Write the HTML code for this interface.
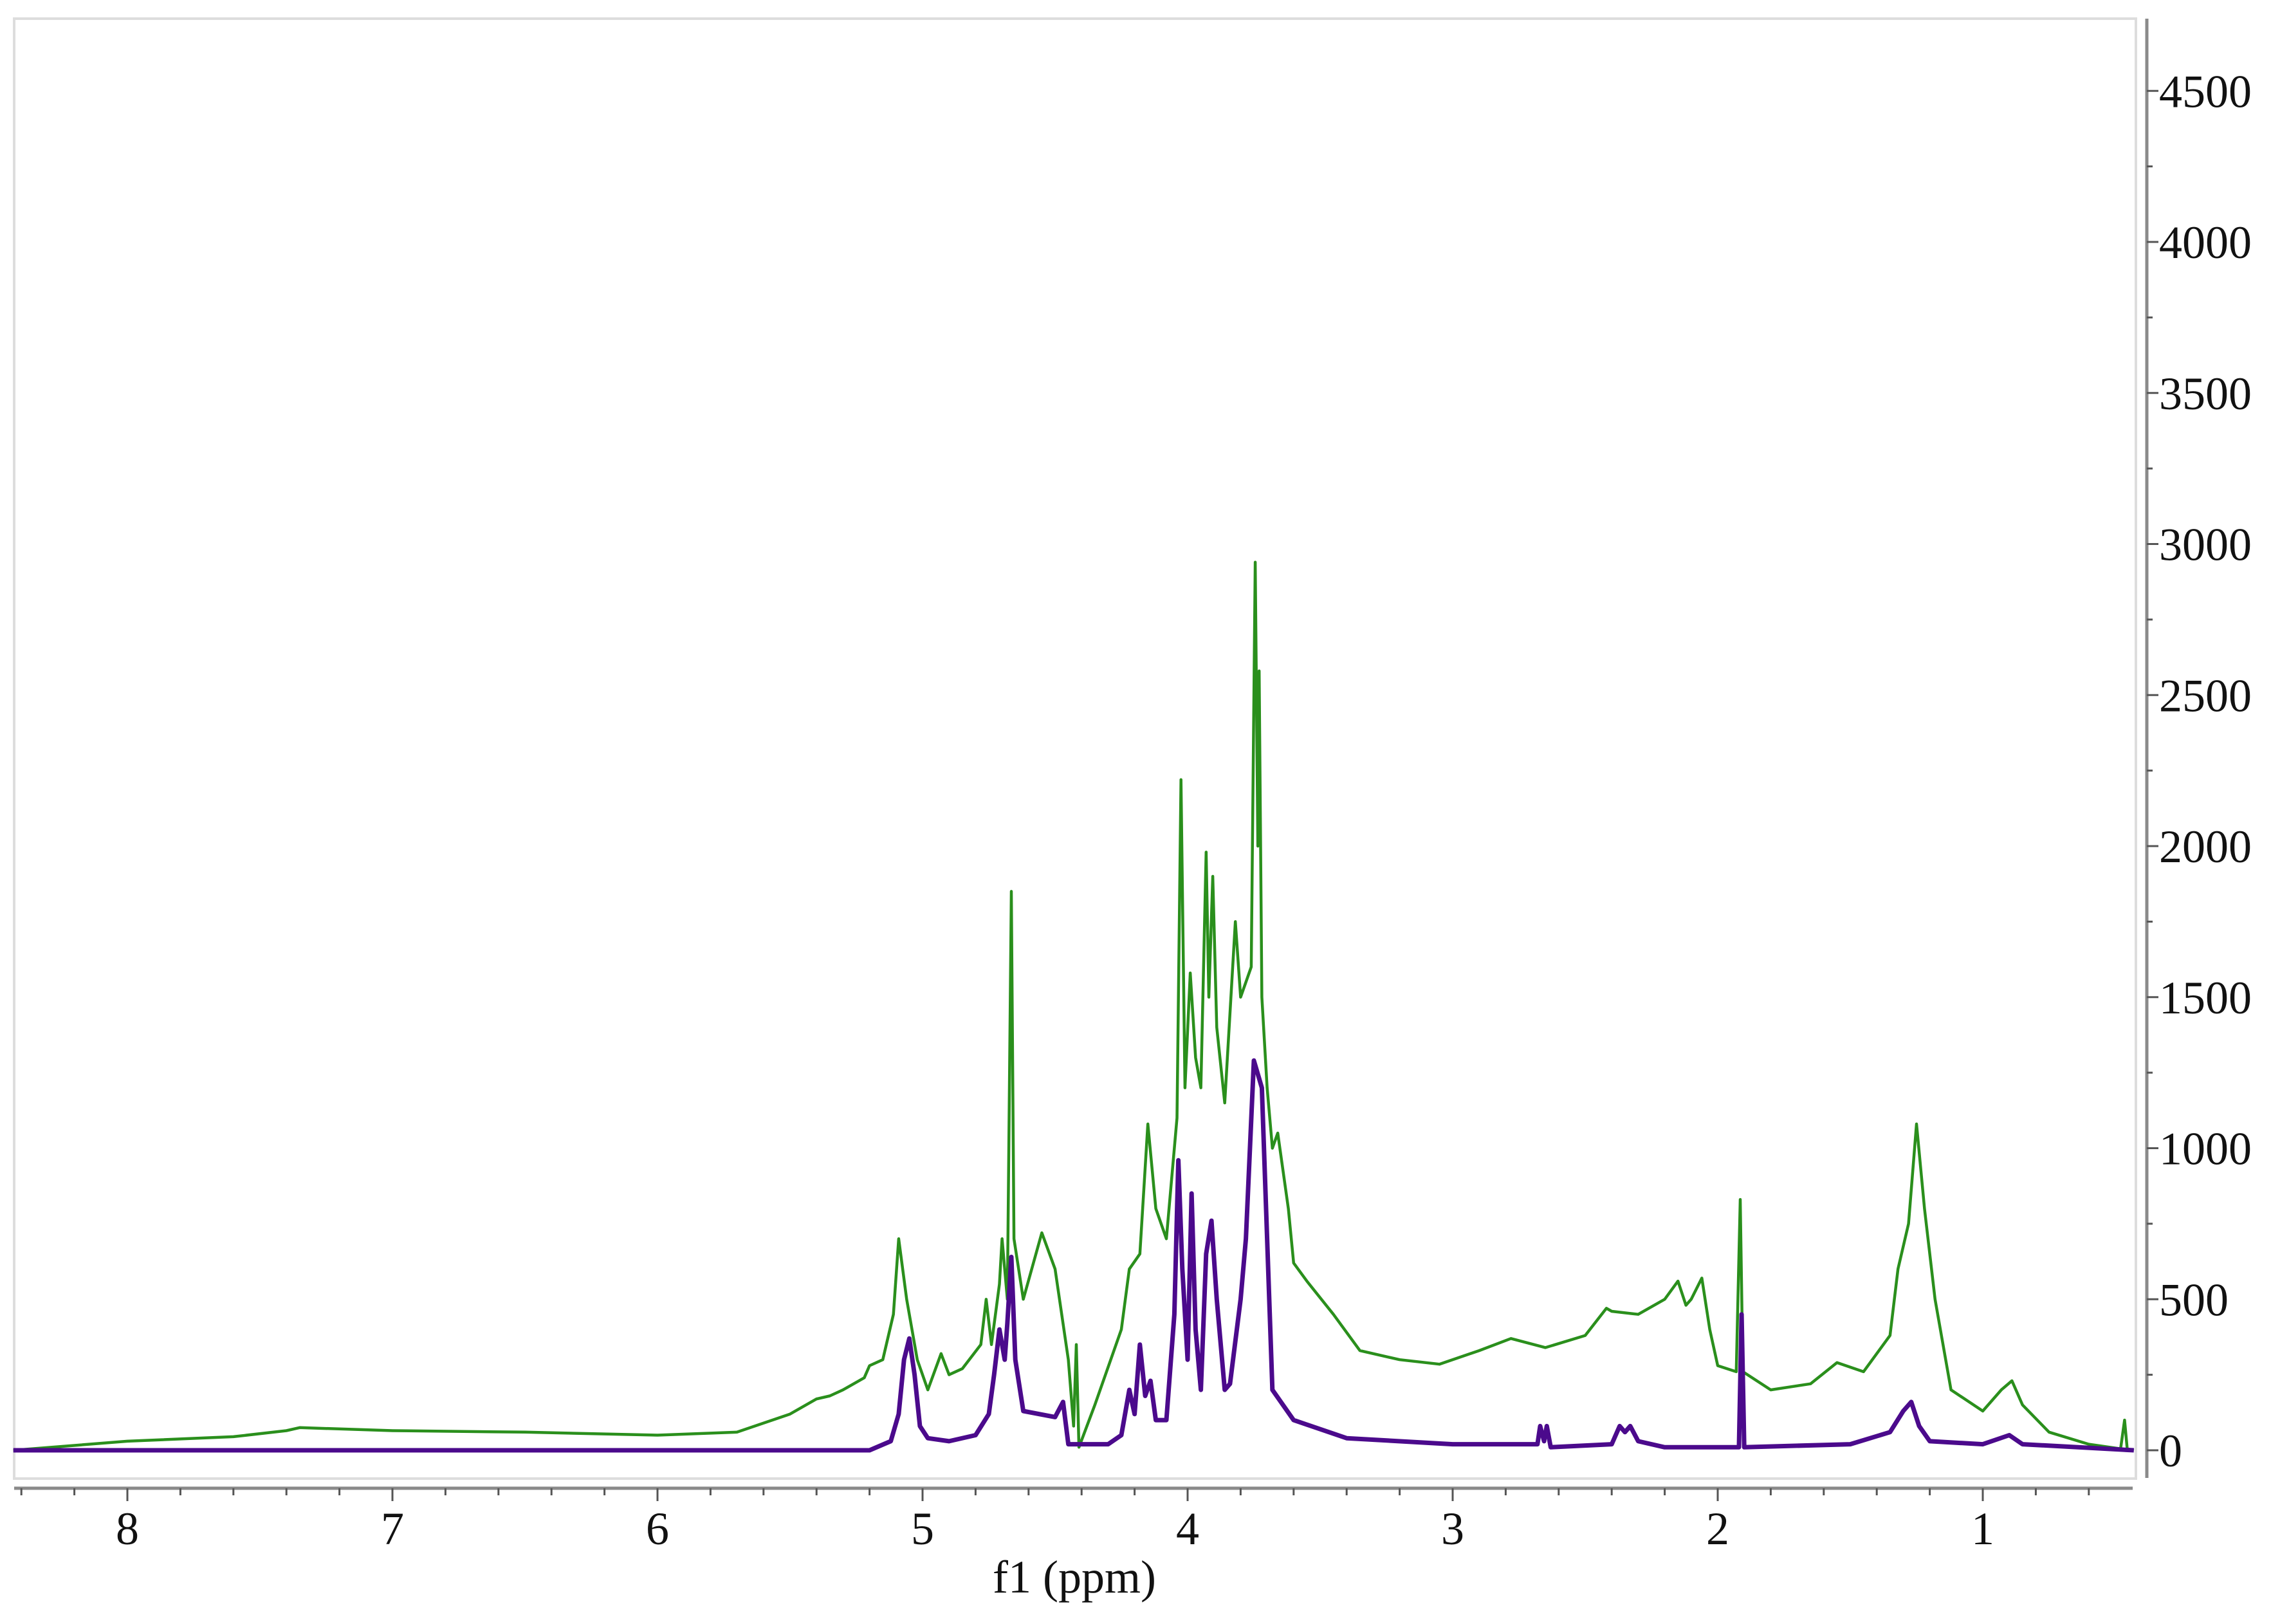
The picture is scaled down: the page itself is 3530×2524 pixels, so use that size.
<!DOCTYPE html>
<html><head><meta charset="utf-8"><style>
html,body{margin:0;padding:0;background:#fff;}
svg{display:block;}
</style></head><body>
<svg id="chart" width="3530" height="2524" viewBox="0 0 3530 2524" xmlns="http://www.w3.org/2000/svg">
<rect x="22" y="29" width="3298" height="2269" fill="#fff" stroke="#dddddd" stroke-width="4"/>
<g id="plot"></g>
<g id="xaxis"></g>
<g id="yaxis"></g>
<text x="1670" y="2475" font-family="Liberation Serif, serif" font-size="72" text-anchor="middle" fill="#111">f1 (ppm)</text>
</svg>
<script>
const xTicks=[8,7,6,5,4,3,2,1];
const yTicks=[0,500,1000,1500,2000,2500,3000,3500,4000,4500];
const greenPpm=[8.43,8.0,7.6,7.4,7.35,7.0,6.5,6.0,5.7,5.5,5.4,5.35,5.3,5.22,5.2,5.15,5.11,5.09,5.06,5.02,4.98,4.93,4.9,4.85,4.78,4.76,4.74,4.71,4.70,4.68,4.665,4.655,4.62,4.55,4.5,4.45,4.43,4.42,4.41,4.35,4.25,4.22,4.18,4.15,4.12,4.08,4.04,4.025,4.01,3.99,3.97,3.95,3.93,3.92,3.905,3.89,3.86,3.82,3.80,3.76,3.745,3.735,3.73,3.72,3.70,3.68,3.66,3.62,3.6,3.55,3.45,3.35,3.2,3.05,2.9,2.78,2.65,2.5,2.42,2.4,2.3,2.2,2.15,2.12,2.1,2.06,2.03,2.0,1.93,1.915,1.905,1.8,1.65,1.55,1.45,1.35,1.32,1.28,1.25,1.22,1.18,1.12,1.0,0.93,0.89,0.85,0.75,0.6,0.48,0.465,0.455,0.43];
const greenVal=[0,30,45,65,75,65,60,50,60,120,170,180,200,240,280,300,450,700,500,300,200,320,250,270,350,500,350,550,700,500,1850,700,500,720,600,300,80,350,10,150,400,600,650,1080,800,700,1100,2220,1200,1580,1300,1200,1980,1500,1900,1400,1150,1750,1500,1600,2940,2000,2580,1500,1200,1000,1050,800,620,560,450,330,300,285,330,370,340,380,470,460,450,500,560,480,500,570,400,280,260,830,260,200,220,290,260,380,600,750,1080,800,500,200,130,200,230,150,60,20,5,100,5,0];
const purplePpm=[8.43,5.2,5.12,5.09,5.07,5.05,5.03,5.01,4.98,4.9,4.8,4.75,4.73,4.71,4.69,4.68,4.665,4.65,4.62,4.5,4.47,4.45,4.3,4.25,4.22,4.20,4.18,4.16,4.14,4.12,4.08,4.05,4.035,4.02,4.0,3.985,3.97,3.95,3.93,3.91,3.89,3.86,3.84,3.80,3.78,3.75,3.72,3.70,3.68,3.6,3.4,3.0,2.68,2.67,2.655,2.645,2.63,2.4,2.37,2.35,2.33,2.3,2.2,1.92,1.91,1.90,1.5,1.35,1.3,1.27,1.24,1.2,1.0,0.9,0.85,0.43];
const purpleVal=[0,0,30,120,300,370,250,80,40,30,50,120,250,400,300,420,640,300,130,110,160,20,20,50,200,120,350,180,230,100,100,450,960,600,300,850,400,200,650,760,500,200,220,500,700,1290,1200,700,200,100,40,20,20,80,30,80,10,20,80,60,80,30,10,10,450,10,20,60,130,160,80,30,20,50,20,0];

const NS='http://www.w3.org/2000/svg';
const X=p=>3082-(p-1)*412;
const Y=v=>2254-v*0.4695;
function mk(tag,attrs,parent){const e=document.createElementNS(NS,tag);for(const k in attrs)e.setAttribute(k,attrs[k]);parent.appendChild(e);return e;}
const plot=document.getElementById('plot');
function series(ppm,val,color,w,name){
  const d=ppm.map((p,i)=>(i?'L':'M')+X(p).toFixed(1)+','+Y(val[i]).toFixed(1)).join('');
  const el=mk('path',{d:d,fill:'none',stroke:color,'stroke-width':w,'stroke-linejoin':'round'},plot);
  
  
}
series(greenPpm,greenVal,'#2a8f1c',4.5,'green-spectrum-line');
series(purplePpm,purpleVal,'#4b0a8c',7,'purple-spectrum-line');

const xa=document.getElementById('xaxis');
let l=mk('line',{x1:22,y1:2313,x2:3315,y2:2313,stroke:'#8a8a8a','stroke-width':5},xa);


for(let k=42;k>=3;k--){const p=k/5;const x=X(p);if(x<22||x>3315)continue;
  const major=(k%5===0);
  const t=mk('line',{x1:x,y1:2313,x2:x,y2:2313+(major?20:11),stroke:'#555','stroke-width':3},xa);
  
  
}
xTicks.forEach(v=>{const t=mk('text',{x:X(v),y:2400,'font-family':'Liberation Serif, serif','font-size':72,'text-anchor':'middle',fill:'#111'},xa);t.textContent=v;
  
  });

const ya=document.getElementById('yaxis');
l=mk('line',{x1:3337,y1:29,x2:3337,y2:2297,stroke:'#8a8a8a','stroke-width':5},ya);


for(let v=0;v<=4750;v+=250){const y=Y(v);if(y<29)continue;const major=(v%500===0);
  const t=mk('line',{x1:3337,y1:y,x2:3337+(major?18:9),y2:y,stroke:'#555','stroke-width':3},ya);
  
  }
yTicks.forEach(v=>{const t=mk('text',{x:3356,y:Y(v)+25,'font-family':'Liberation Serif, serif','font-size':72,fill:'#111'},ya);t.textContent=v;
  
  });
</script>
</body></html>
